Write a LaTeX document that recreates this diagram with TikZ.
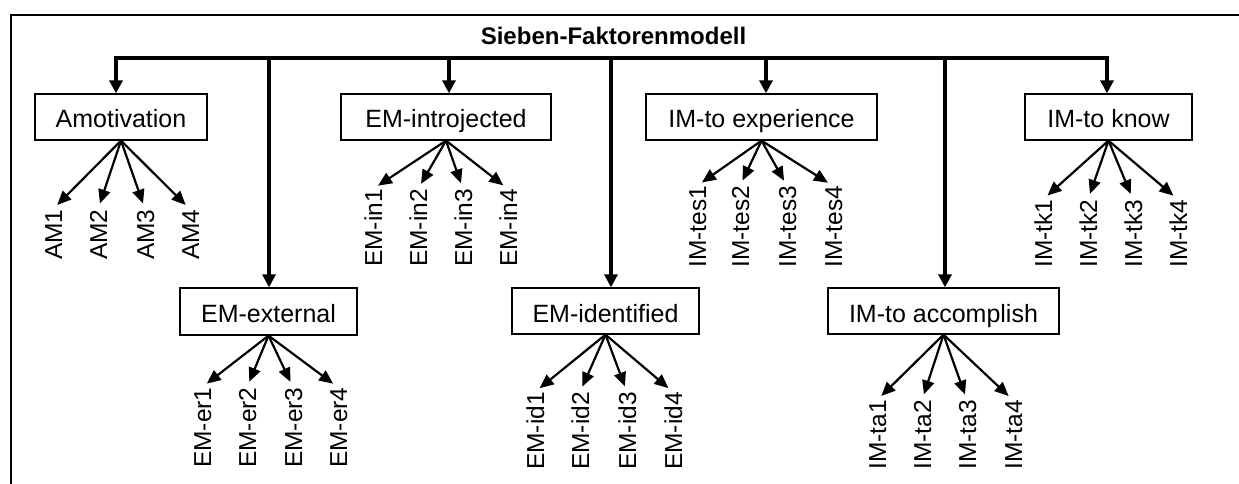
\documentclass[tikz,border=0pt]{standalone}
\usepackage{fontspec}
\setmainfont{Liberation Sans}
\usetikzlibrary{arrows.meta}
\begin{document}
\begin{tikzpicture}[x=1pt,y=-1pt,
  box/.style={draw,line width=1.3pt,inner sep=0pt,minimum height=46pt,
    text height=22pt,text depth=0pt,font=\fontsize{25}{30}\selectfont},
  leaf/.style={rotate=90,anchor=west,inner sep=0pt,text height=18pt,
    text depth=0pt,font=\fontsize{24.5}{28}\selectfont},
  tip/.style={-{Triangle[length=13pt,width=13pt]}},
  drop/.style={line width=3.5pt,tip},
  branch/.style={line width=2.2pt,-{Triangle[length=14pt,width=12pt]},shorten >=6pt}]
\useasboundingbox (0,0) rectangle (1239,484);
% frame
\coordinate (fbl) at (11,484);
\coordinate (ftl) at (11,15);
\coordinate (ftr) at (1239,15);
\draw[line width=2pt] (fbl) -- (ftl) -- (ftr);
% title
\node[font=\fontsize{24}{28}\selectfont\bfseries,anchor=base,inner sep=0pt] (title) at (613.5,45) {Sieben-Faktorenmodell};
\coordinate (bar) at (613.5,58);
% boxes
\node[box,minimum width=172pt] (am)  at (121,117)   {Amotivation};
\node[box,minimum width=210pt] (ein) at (446,117)   {EM-introjected};
\node[box,minimum width=231pt] (tes) at (761.5,117) {IM-to experience};
\node[box,minimum width=167pt] (tk)  at (1108.5,117){IM-to know};
\node[box,minimum width=177pt,minimum height=47pt] (er) at (268.5,311.5) {EM-external};
\node[box,minimum width=187pt] (id)  at (605.5,311) {EM-identified};
\node[box,minimum width=231pt] (ta)  at (943.5,311) {IM-to accomplish};
% main bar
\draw[line width=3.5pt,line join=miter,{Triangle[length=13pt,width=13pt]}-{Triangle[length=13pt,width=13pt]}]
  ([xshift=-5pt]am.north) |- (bar) -| ([xshift=-1.5pt]tk.north);
\draw[drop] ([xshift=3pt]ein.north |- bar) -- ([xshift=3pt]ein.north);
\draw[drop] ([xshift=4.5pt]tes.north |- bar) -- ([xshift=4.5pt]tes.north);
\draw[drop] ([xshift=0.5pt]er.north |- bar) -- ([xshift=0.5pt]er.north);
\draw[drop] ([xshift=5.5pt]id.north |- bar) -- ([xshift=5.5pt]id.north);
\draw[drop] ([xshift=1.5pt]ta.north |- bar) -- ([xshift=1.5pt]ta.north);
% leaves
\foreach \n/\t/\y/\a/\b/\c/\d in {am/AM/260/53/98/145/190,
    ein/EM-in/267/373/418/463/508,
    tes/IM-tes/268/697/740/787/833,
    tk/IM-tk/268/1043/1088/1133/1178,
    er/EM-er/468/202/247/293/338,
    id/EM-id/470/535/580/627/673,
    ta/IM-ta/470/877/922/967/1013}{
  \node[leaf] (\n1) at (\a,\y) {\t1};
  \node[leaf] (\n2) at (\b,\y) {\t2};
  \node[leaf] (\n3) at (\c,\y) {\t3};
  \node[leaf] (\n4) at (\d,\y) {\t4};
  \foreach \i in {1,...,4}{\draw[branch] (\n.south) -- (\n\i.east);}
}
\end{tikzpicture}
\end{document}
